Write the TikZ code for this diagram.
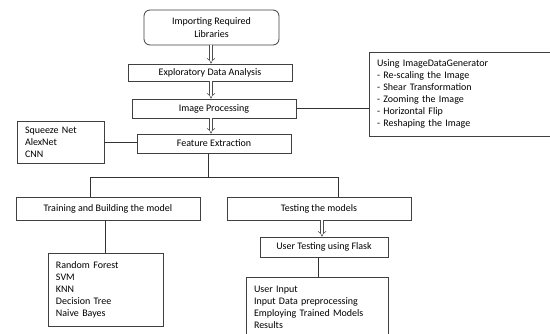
\documentclass[tikz,border=0pt]{standalone}
\usepackage{fontspec}
\setmainfont{Carlito}
\usetikzlibrary{arrows.meta}
\begin{document}
\begin{tikzpicture}[x=1pt,y=-1pt,
  box/.style={draw=black!75, line width=0.8pt, inner sep=0pt, align=center,
    font=\fontsize{10}{13}\selectfont},
  listbox/.style={draw=black!75, line width=0.8pt, inner xsep=8pt, inner ysep=0pt,
    align=left, font=\fontsize{10}{12}\selectfont},
  link/.style={draw=black!80, line width=0.8pt},
  flow/.style={draw=black!70, line width=0.5pt, double, double distance=2.4pt, -{Implies}}]
  \fill[white] (0,0) rectangle (550,333);
  \useasboundingbox (0,0) rectangle (550,333);
  % main chain
  \node[box, rounded corners=6pt, minimum width=135pt, minimum height=35pt] (imp) at (211.5,27.5) {Importing Required\\Libraries};
  \node[box, minimum width=164pt, minimum height=17pt] (eda) at (210,72.5) {Exploratory Data Analysis};
  \node[box, minimum width=164pt, minimum height=19pt] (ip) at (214,108.5) {Image Processing};
  \node[box, minimum width=154pt, minimum height=19pt] (fe) at (214,143.5) {Feature Extraction};
  % side notes
  \node[listbox, text width=71pt, minimum height=42pt] (sq) at (60.5,142) {Squeeze Net\\AlexNet\\CNN};
  \node[listbox, text width=170pt, minimum height=84pt] (idg) at (462,94) {Using ImageDataGenerator\\- Re-scaling the Image\\- Shear Transformation\\- Zooming the Image\\- Horizontal Flip\\- Reshaping the Image};
  % lower branches
  \node[box, minimum width=184pt, minimum height=23pt] (tr) at (108,208.5) {Training and Building the model};
  \node[box, minimum width=184pt, minimum height=23pt] (te) at (319,208.5) {Testing the models};
  \node[box, minimum width=128pt, minimum height=20pt] (ut) at (324,247) {User Testing using Flask};
  \node[listbox, text width=99pt, minimum height=73pt] (rf) at (105.5,289.5) {Random Forest\\SVM\\KNN\\Decision Tree\\Naive Bayes};
  \node[listbox, text width=126pt, minimum height=60pt] (ui) at (317,307) {User Input\\Input Data preprocessing\\Employing Trained Models\\Results};
  % junction points
  \coordinate (a1) at (211,0);
  \coordinate (j) at (208,177);
  \coordinate (jl) at (90,177);
  \coordinate (jr) at (338,177);
  \coordinate (b1) at (105,0);
  \coordinate (b2) at (322,0);
  \coordinate (b3) at (318,0);
  % double arrows
  \draw[flow] (a1 |- imp.south) -- (a1 |- eda.north);
  \draw[flow] (a1 |- eda.south) -- (a1 |- ip.north);
  \draw[flow] (a1 |- ip.south) -- (a1 |- fe.north);
  \draw[flow] (b2 |- te.south) -- (b2 |- ut.north);
  % plain connectors
  \draw[link] (ip.east) -- (ip.east -| idg.west);
  \draw[link] (sq.east) -- (sq.east -| fe.west);
  \draw[link] (j |- fe.south) -- (j);
  \draw[link] (jl) -- (jr);
  \draw[link] (jl) -- (jl |- tr.north);
  \draw[link] (jr) -- (jr |- te.north);
  \draw[link] (b1 |- tr.south) -- (b1 |- rf.north);
  \draw[link] (b3 |- ut.south) -- (b3 |- ui.north);
\end{tikzpicture}
\end{document}
